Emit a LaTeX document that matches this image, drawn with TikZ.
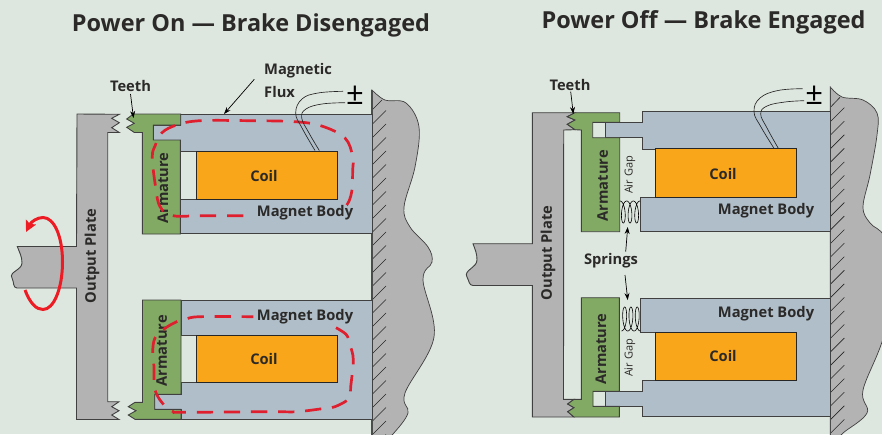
\documentclass[tikz,border=0pt]{standalone}
\usepackage{fontspec}
\setmainfont{Open Sans}
\usetikzlibrary{arrows.meta}
\definecolor{bgc}{HTML}{DEE7DF}
\definecolor{armc}{HTML}{83AA64}
\definecolor{bodyc}{HTML}{B0BEC9}
\definecolor{coilc}{HTML}{FAA61A}
\definecolor{grayc}{HTML}{B3B3B3}
\definecolor{txtc}{HTML}{2B2A29}
\definecolor{fluxc}{HTML}{DF1F2E}
\definecolor{spinc}{HTML}{ED1C24}
\tikzset{
  solidpart/.style={draw=black!75,line width=0.9pt,line join=miter},
  platepart/.style={solidpart,fill=grayc},
  armpart/.style={solidpart,fill=armc},
  bodypart/.style={solidpart,fill=bodyc},
  coilpart/.style={draw=black!85,line width=0.9pt,fill=coilc},
  wallpart/.style={draw=black!75,line width=0.7pt,fill=grayc},
  wallline/.style={draw=black!70,line width=1.4pt},
  hatchline/.style={draw=black!85,line width=0.6pt},
  wire/.style={draw=black!85,line width=0.65pt},
  flux/.style={draw=fluxc,line width=2.7pt,dash pattern=on 16.3pt off 10.8pt},
  pointer/.style={draw=black,line width=0.7pt,-{Stealth[length=7pt,width=5pt]}},
  springline/.style={draw=black,line width=0.6pt},
  lab/.style={inner sep=0pt,text=txtc,font=\fontsize{14.7}{17}\selectfont\bfseries},
  smalllab/.style={inner sep=0pt,text=txtc,font=\fontsize{11}{13}\selectfont,rotate=90},
  titlelab/.style={inner sep=0pt,text=txtc,font=\fontsize{23.45}{28}\selectfont\bfseries},
  signlab/.style={inner sep=0pt,text=black,font=\fontsize{31}{31}\selectfont},
}
\begin{document}
\begin{tikzpicture}[x=1pt,y=-1pt]
\useasboundingbox (0,0) rectangle (882,434);
\clip (0,0) rectangle (882,434);
\fill[bgc] (0,0) rectangle (882,434);

% ---- LEFT walls
\draw[wallpart] (372,90) -- plot[smooth,tension=.6] coordinates {(372,90) (385,100) (406,103) (419,127) (415,167) (404,207) (410,227) (428,247) (432,262) (423,280) (434,337) (405,393) (408,413) (393,434) (385,440)} -- (372,440) -- cycle;
\foreach \k in {-13,...,11} \draw[hatchline] (386,{286+13.5*\k}) -- ++(-14,14);
\draw[hatchline] (382,100) -- (372,110);
\draw[wallline] (372,90) -- (372,440);

% Left plate + shaft
\draw[platepart] (77,114) -- (119.3,114.3) -- (111.7,118.3) -- (119.3,122.7) -- (111.7,127.7) -- (119.3,132.5) -- (107.7,132.5) -- (107.7,401.7) -- (119,401.7) -- (111.7,406.7) -- (119,410.7) -- (111.7,415) -- (119,419.5) -- (76.5,419.5) -- (76.5,288) -- (17,288) to[out=180,in=-60] (12,278) to[out=120,in=-90] (22,263) to[out=90,in=-70] (17.3,246.5) -- (76.5,246.5) -- cycle;

% Left bodies
\draw[bodypart] (180.7,114) -- (372,114) -- (372,233.5) -- (180.7,233.5) -- (180.7,199.3) -- (196.5,199.3) -- (196.5,151) -- (180.7,151) -- (180.7,140) -- (153.3,140) -- (153.3,125) -- (180.7,125) -- cycle;
\draw[bodypart] (181,300.5) -- (372,300.5) -- (372,419.3) -- (181,419.3) -- (181,409.3) -- (154.7,409.3) -- (154.7,394.3) -- (181,394.3) -- (181,382.3) -- (196.7,382.3) -- (196.7,335) -- (181,335) -- cycle;
\draw[coilpart] (196.5,151) rectangle (337.3,199.3);
\draw[coilpart] (196.7,335) rectangle (337.3,382.3);

% Left armatures
\draw[armpart] (133.3,114) -- (180.7,114) -- (180.7,125) -- (153.3,125) -- (153.3,140) -- (180.3,140) -- (180.3,234) -- (142.3,234) -- (142.3,132.5) -- (134.3,132.5) -- (126.7,127.3) -- (134.3,123.3) -- (126.7,119) -- cycle;
\draw[armpart] (142.5,300) -- (181,300) -- (181,394.3) -- (154.7,394.3) -- (154.7,409.3) -- (181,409.3) -- (181,419.3) -- (135,419.3) -- (128.3,415) -- (136,410.7) -- (128.3,406.7) -- (135,402.3) -- (142.5,402.3) -- cycle;

% Left labels
\node[lab,rotate=90] (arm1) at (163,188) {Armature};
\node[lab,rotate=90] (arm2) at (161.7,350.7) {Armature};
\node[lab,rotate=90] (plate1) at (92,256) {Output Plate};
\node[lab] (coil1) at (264,176) {Coil};
\node[lab] (coil2) at (264,359) {Coil};
\node[lab] (mag1) at (305,213) {Magnet Body};
\node[lab] (mag2) at (305,316.5) {Magnet Body};

% Flux
\draw[flux] plot[smooth,tension=.6] coordinates {(243.3,215.7) (200,215.7) (173.3,215.7) (160,206.7) (155,183) (152.3,156.7) (155,146) (162,132.7) (176.7,125) (200,120.7) (250,120.7) (295,121.7) (321.7,126) (345,138) (352.7,156.7) (352.7,170) (351.7,191.7) (346.7,205) (338,208)};
\draw[flux,dash phase=4.7pt] plot[smooth,tension=.6] coordinates {(253.3,316.7) (200,316.7) (186,319) (176.7,321.7) (164,329) (155,338) (152.7,351.7) (154,366.7) (155,390) (164,405) (173.3,411.7) (182,412.3) (270,411.7) (296.7,411.7) (325,408.3) (335,406.7) (349.3,398.3) (350.7,386.7) (353.3,360) (350,345) (346,334.3) (332.7,326)};

% Left wires
\draw[wire] plot[smooth,tension=.7] coordinates {(343,91.3) (318,93) (302,99) (295.7,113) (302,128) (315,150.5)};
\draw[wire] plot[smooth,tension=.7] coordinates {(345,102.7) (322,104) (306,109) (301.7,118) (309,133) (319.3,150.5)};
\node[signlab] (sign1) at (355,95.5) {±};

% Left annotation
\node[lab] (teeth1) at (130.5,86) {Teeth};
\coordinate (teeth1s) at (130.5,94);
\coordinate (teeth1t) at (133.5,118);
\draw[pointer] (teeth1s) -- (teeth1t);
\node[lab,anchor=west] (flux1a) at (264,71) {Magnetic};
\node[lab,anchor=west] (flux1b) at (264,92) {Flux};
\coordinate (flux1s) at (254.3,79.3);
\coordinate (flux1t) at (224,114);
\draw[pointer] (flux1s) -- (flux1t);

% Spin arrow
\draw[draw=spinc,line width=3pt,-{Stealth[length=11pt,width=11pt,inset=2pt]}] (25,290) .. controls (30,303) and (36,309.5) .. (43,309.5) .. controls (54,309.5) and (62.5,288) .. (62.5,262) .. controls (62.5,236) and (54,217.5) .. (43,217.5) .. controls (37,217.5) and (31,222) .. (26,232);

% ---- RIGHT wall
\draw[wallpart] (830.3,87) -- plot[smooth,tension=.6] coordinates {(830.3,87) (842,97) (863,100) (877,113) (877,135) (870,175) (863,207) (870,223) (884,236) (893,270) (884,335) (863,390) (867,413) (843,433) (838,440)} -- (830.3,440) -- cycle;
\foreach \k in {0,...,23} \draw[hatchline] (844.3,{107.7+13.55*\k}) -- ++(-14,14);
\draw[hatchline] (840,97.3) -- (831,106.7);
\draw[wallline] (830.3,87) -- (830.3,440);

% Right plate + shaft
\draw[platepart] (532.3,112.7) -- (575,112.7) -- (567.3,116.7) -- (575,120) -- (567.3,124.3) -- (575,129.7) -- (563.7,130) -- (563.5,399.3) -- (574,399.3) -- (567.7,404) -- (574,407.7) -- (567.7,411.7) -- (574,417) -- (532.3,417) -- (532.3,285.5) -- (473,285.5) to[out=180,in=-60] (467,277) to[out=120,in=-90] (477,260) to[out=90,in=-70] (473,243.7) -- (532.3,243.7) -- cycle;

% Right bodies
\draw[bodypart] (642.3,111.7) -- (830.3,111.7) -- (830.3,231.7) -- (640,231.7) -- (640,197) -- (655.7,197) -- (655.7,149) -- (642.3,149) -- (642.3,137.7) -- (605,137.7) -- (605,122.3) -- (642.3,122.3) -- cycle;
\draw[bodypart] (640,298) -- (830.3,298) -- (830.3,416.8) -- (642.3,416.8) -- (642.3,406.3) -- (605,406.3) -- (605,391.3) -- (642.3,391.3) -- (642.3,380) -- (655.5,380) -- (655.5,332.3) -- (640,332.3) -- cycle;
\draw[coilpart] (655.7,148.7) rectangle (796,197);
\draw[coilpart] (655.5,332.3) rectangle (796,380);

% Right armatures
\draw[armpart] (575,112.7) -- (619.7,112.7) -- (619.7,122.3) -- (592.7,122.3) -- (592.7,137.7) -- (619.7,137.7) -- (619.7,231.7) -- (581.3,231.7) -- (581.3,130) -- (575,129.7) -- (567.3,124.3) -- (575,120) -- (567.3,116.7) -- cycle;
\draw[armpart] (581.3,297.7) -- (619.3,297.7) -- (619.3,391.3) -- (593,391.3) -- (593,406.3) -- (619.3,406.3) -- (619.3,417) -- (574,417) -- (567.7,411.7) -- (574,407.7) -- (567.7,404) -- (574,399.3) -- (581.3,399.3) -- cycle;

% Right labels
\node[lab,rotate=90] (arm3) at (602.7,185.7) {Armature};
\node[lab,rotate=90] (arm4) at (601,349) {Armature};
\node[lab,rotate=90] (plate2) at (548,253) {Output Plate};
\node[lab] (coil3) at (723,174) {Coil};
\node[lab] (coil4) at (723,356) {Coil};
\node[lab] (mag3) at (766,211) {Magnet Body};
\node[lab] (mag4) at (766,314) {Magnet Body};
\node[smalllab] (gap1) at (630,175) {Air Gap};
\node[smalllab] (gap2) at (630,358) {Air Gap};

% Springs
\draw[springline] plot[domain=0:18.85,samples=160,smooth] ({620+1.06*\x+3.4*sin(\x r)},{201+11*(1-cos(\x r))});
\draw[springline] plot[domain=0:18.85,samples=160,smooth] ({621.5+1.0*\x+3.4*sin(\x r)},{331-12*(1-cos(\x r))});
\node[lab] (spr) at (611,261) {Springs};
\coordinate (spr1s) at (625.7,251.7);
\coordinate (spr1t) at (627.7,227);
\coordinate (spr2s) at (625,275);
\coordinate (spr2t) at (627.7,300);
\draw[pointer] (spr1s) -- (spr1t);
\draw[pointer] (spr2s) -- (spr2t);

% Right wires
\draw[wire] plot[smooth,tension=.7] coordinates {(802.7,88.7) (778,90.5) (760,98) (754,111.7) (761,127) (774,148.3)};
\draw[wire] plot[smooth,tension=.7] coordinates {(804,100.7) (785,102) (767,106) (760.7,114) (767,128) (778.3,148.3)};
\node[signlab] (sign2) at (814.2,95.5) {±};

\node[lab] (teeth2) at (570,84.7) {Teeth};
\coordinate (teeth2s) at (570.7,91.7);
\coordinate (teeth2t) at (573.3,114);
\draw[pointer] (teeth2s) -- (teeth2t);

% Titles
\node[titlelab] (title1) at (251,25) {Power On — Brake Disengaged};
\node[titlelab] (title2) at (703.5,22) {Power Off — Brake Engaged};
\end{tikzpicture}
\end{document}
